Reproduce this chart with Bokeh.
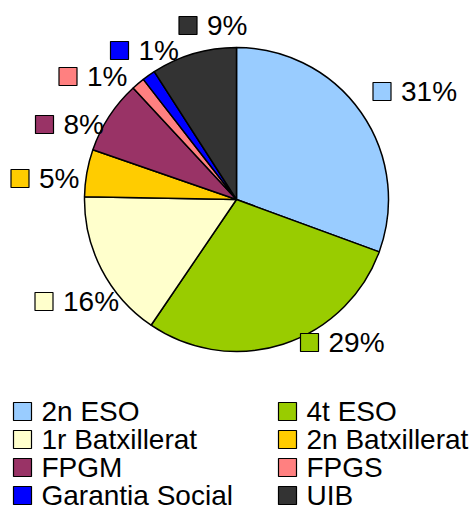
import math
from bokeh.plotting import figure
from bokeh.models import Range1d, ColumnDataSource
from bokeh.core.properties import value
from bokeh.embed import file_html
from bokeh.resources import INLINE

# ---- data ----
categories = ["2n ESO", "4t ESO", "1r Batxillerat", "2n Batxillerat",
              "FPGM", "FPGS", "Garantia Social", "UIB"]
shares = [30.6, 28.9, 15.8, 5.0, 7.8, 1.4, 1.4, 9.1]
colors = ["#99CCFF", "#99CC00", "#FFFFCC", "#FFCC00",
          "#993366", "#FF8080", "#0000FF", "#333333"]

# ---- layout (page pixels) ----
W, H = 475, 512
CX, CY, R = 236, 199, 152
FONT = "Liberation Sans"
FS = "28px"
# label square centres (page px), in category order
lab_x = [381.5, 309, 43.5, 19.5, 44, 67.5, 119, 187.5]
lab_y = [91, 342, 301, 178, 124, 76, 50, 25]
# legend
leg_col_x = [22, 287]
leg_row_y = [411, 439, 467, 495]

p = figure(width=W, height=H, output_backend="svg", toolbar_location=None,
           x_range=Range1d(0, W), y_range=Range1d(-H, 0),
           min_border=0, outline_line_color=None)
p.axis.visible = False
p.grid.visible = False

total = sum(shares)
starts, ends = [], []
acc = 0.0
for s in shares:
    starts.append(math.pi / 2 - 2 * math.pi * acc / total)
    acc += s
    ends.append(math.pi / 2 - 2 * math.pi * acc / total)

src = ColumnDataSource(dict(cat=categories, start=starts, end=ends, color=colors))
p.wedge(x=CX, y=-CY, radius=R, start_angle="start", end_angle="end",
        direction="clock", fill_color="color", line_color="black",
        line_width=1.5, source=src)

# data labels
labels = [f"{round(s / total * 100)}%" for s in shares]
lsrc = ColumnDataSource(dict(x=lab_x, y=[-v for v in lab_y],
                             tx=[v + 19 for v in lab_x], color=colors, text=labels))
p.scatter(x="x", y="y", marker="square", size=18, fill_color="color",
          line_color="black", line_width=1.2, source=lsrc)
p.text(x="tx", y="y", text="text", text_font=value(FONT), text_font_size=FS,
       text_baseline="middle", text_align="left", text_color="black", source=lsrc)

# legend (2 columns, row-major)
gx, gy = [], []
for i in range(len(categories)):
    gx.append(leg_col_x[i % 2])
    gy.append(-leg_row_y[i // 2])
gsrc = ColumnDataSource(dict(x=gx, y=gy, tx=[v + 19 for v in gx], color=colors, text=categories))
p.scatter(x="x", y="y", marker="square", size=18, fill_color="color",
          line_color="black", line_width=1.2, source=gsrc)
p.text(x="tx", y="y", text="text", text_font=value(FONT), text_font_size=FS,
       text_baseline="middle", text_align="left", text_color="black", source=gsrc)

open("out.html", "w").write(file_html(p, INLINE))
